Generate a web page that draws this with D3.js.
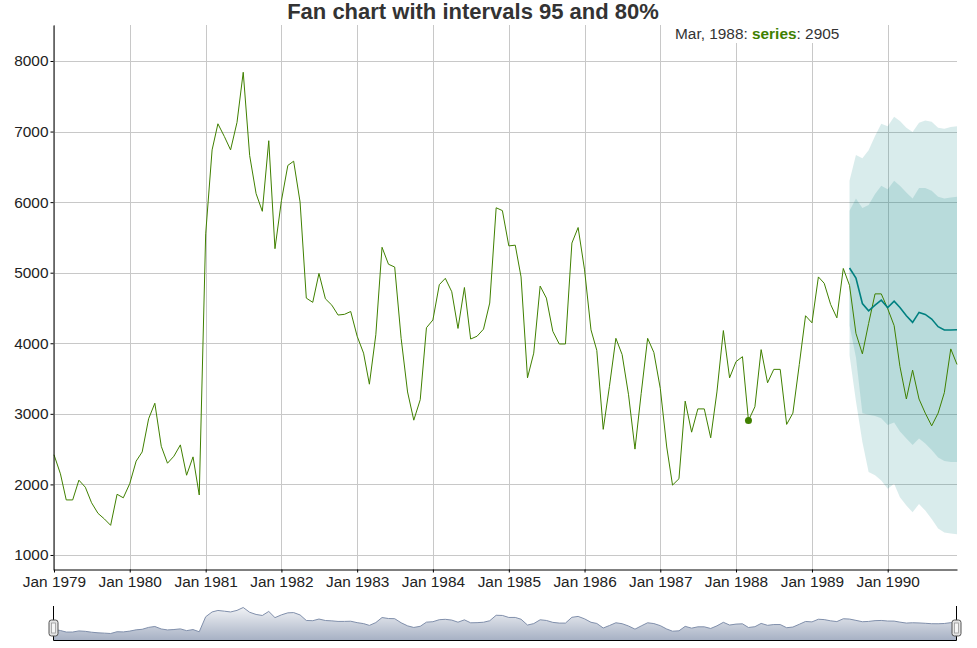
<!DOCTYPE html>
<html>

<head>
    <meta charset="UTF-8">
    <title>Fan chart with intervals 95 and 80%</title>
    <style>
        body { margin: 0; background: white; font-family: Arial, 'Liberation Sans', sans-serif; }
    </style>
</head>

<body>
    <svg></svg>
    <script src="https://d3js.org/d3.v7.min.js"></script>
    <script>
        // monthly observations, Jan 1979 .. Dec 1990
        let series = [
            2420, 2150, 1780, 1780, 2060, 1960, 1740, 1590, 1510, 1420, 1860, 1810,
            2010, 2330, 2460, 2930, 3150, 2540, 2300, 2400, 2560, 2130, 2390, 1850,
            5550, 6740, 7110, 6930, 6740, 7130, 7840, 6660, 6120, 5870, 6870, 5340,
            6020, 6520, 6580, 6000, 4640, 4580, 4990, 4630, 4540, 4400, 4410, 4450,
            4100, 3860, 3420, 4120, 5360, 5120, 5080, 4070, 3310, 2910, 3200, 4220,
            4330, 4830, 4920, 4730, 4210, 4790, 4060, 4100, 4200, 4570, 5920, 5880,
            5380, 5390, 4940, 3510, 3860, 4810, 4640, 4170, 3990, 3990, 5420, 5640,
            5040, 4190, 3900, 2780, 3390, 4070, 3840, 3270, 2500, 3290, 4070, 3870,
            3360, 2530, 1990, 2080, 3180, 2740, 3070, 3070, 2660, 3310, 4180, 3510,
            3740, 3810, 2905, 3100, 3910, 3440, 3630, 3630, 2850, 3010, 3700, 4390,
            4290, 4940, 4850, 4550, 4360, 5060, 4820, 4140, 3850, 4280, 4700, 4700,
            4490, 4250, 3670, 3210, 3620, 3210, 3010, 2830, 3010, 3300, 3920, 3700
        ];

        // forecast and its intervals, Jul 1989 .. Dec 1990
        let forecastStart = 126;
        let forecast = [5066, 4925, 4563, 4460, 4540, 4610, 4507, 4596, 4507, 4390, 4296, 4437, 4408, 4343, 4235, 4188, 4188, 4192];
        let upper95 = [6302, 6669, 6622, 6734, 6936, 7110, 7077, 7209, 7148, 7054, 6993, 7124, 7157, 7139, 7054, 7040, 7063, 7077];
        let upper80 = [5879, 6053, 5917, 5959, 6114, 6231, 6184, 6302, 6231, 6137, 6053, 6199, 6199, 6161, 6076, 6053, 6067, 6076];
        let lower80 = [4250, 3800, 3010, 2986, 2971, 2938, 2843, 2876, 2748, 2652, 2557, 2652, 2581, 2486, 2381, 2333, 2319, 2319];
        let lower95 = [3830, 3180, 2600, 2176, 2128, 2057, 1938, 2010, 1819, 1700, 1605, 1724, 1629, 1510, 1376, 1319, 1305, 1295];

        let yTicks = [1000, 2000, 3000, 4000, 5000, 6000, 7000, 8000];
        let highlightMonth = 110; // Mar 1988

        let width = 977,
            height = 648;

        let green = "rgb(64,128,0)",
            teal = "rgb(0,128,128)";

        let labelSize = "15.4px";

        let svg = d3.select("svg")
            .attr("width", width)
            .attr("height", height)
            .style("display", "block");

        let start = new Date(1979, 0, 1);
        let dates = series.map((v, i) => d3.timeMonth.offset(start, i));
        let years = d3.timeYear.range(start, dates[dates.length - 1]);

        let x = d3.scaleTime()
            .domain([dates[0], dates[dates.length - 1]])
            .range([54, 957]);

        let y = d3.scaleLinear()
            .domain([787, 8510])
            .range([570, 25]);

        // grid
        let grid = svg.append("g").attr("stroke", "#c8c8c8").attr("stroke-width", 1);
        grid.selectAll(".vg").data(years).enter().append("line")
            .attr("x1", d => Math.round(x(d)) + 0.5).attr("x2", d => Math.round(x(d)) + 0.5)
            .attr("y1", y.range()[1]).attr("y2", y.range()[0]);
        grid.selectAll(".hg").data(yTicks).enter().append("line")
            .attr("x1", x.range()[0]).attr("x2", x.range()[1])
            .attr("y1", d => Math.round(y(d)) + 0.5).attr("y2", d => Math.round(y(d)) + 0.5);

        // fan
        let fan = forecast.map((f, i) => ({
            date: dates[forecastStart + i],
            mid: f, hi95: upper95[i], lo95: lower95[i], hi80: upper80[i], lo80: lower80[i]
        }));

        svg.append("path")
            .datum(fan)
            .attr("fill", teal).attr("fill-opacity", 0.15)
            .attr("d", d3.area().x(d => x(d.date)).y0(d => y(d.lo95)).y1(d => y(d.hi95)));
        svg.append("path")
            .datum(fan)
            .attr("fill", teal).attr("fill-opacity", 0.15)
            .attr("d", d3.area().x(d => x(d.date)).y0(d => y(d.lo80)).y1(d => y(d.hi80)));

        // lines
        svg.append("path")
            .datum(series)
            .attr("fill", "none").attr("stroke", green).attr("stroke-width", 1)
            .attr("d", d3.line().x((d, i) => x(dates[i])).y(d => y(d)));

        svg.append("path")
            .datum(fan)
            .attr("fill", "none").attr("stroke", teal).attr("stroke-width", 1.6)
            .attr("d", d3.line().x(d => x(d.date)).y(d => y(d.mid)));

        // highlighted point
        svg.append("circle")
            .attr("cx", x(dates[highlightMonth]))
            .attr("cy", y(series[highlightMonth]))
            .attr("r", 3.5)
            .attr("fill", green);

        // axes
        let yAxis = svg.append("g")
            .attr("transform", "translate(53.5,0)")
            .call(d3.axisLeft(y).tickValues(yTicks).tickSize(3).tickSizeOuter(0).tickPadding(2).tickFormat(d3.format("d")));
        let xAxis = svg.append("g")
            .attr("transform", "translate(0,569.5)")
            .call(d3.axisBottom(x).tickValues(years).tickSize(3).tickSizeOuter(0).tickPadding(3.5).tickFormat(d3.timeFormat("Jan %Y")));

        [yAxis, xAxis].forEach(a => {
            a.selectAll("path, line").attr("stroke", "#000");
            a.selectAll("text").attr("fill", "#222").style("font-size", labelSize)
                .style("font-family", "Arial, 'Liberation Sans', sans-serif");
        });

        // title
        svg.append("text")
            .attr("x", 473).attr("y", 19)
            .attr("text-anchor", "middle")
            .style("font-size", "22px").style("font-weight", "bold")
            .attr("fill", "#333")
            .text("Fan chart with intervals 95 and 80%");

        // legend
        svg.append("rect")
            .attr("x", 668).attr("y", 25).attr("width", 184).attr("height", 18)
            .attr("fill", "white");
        let legend = svg.append("text")
            .attr("x", 675).attr("y", 39)
            .style("font-size", labelSize)
            .attr("fill", "#333");
        legend.append("tspan").text(d3.timeFormat("%b, %Y")(dates[highlightMonth]) + ": ");
        legend.append("tspan").attr("fill", green).style("font-weight", "bold").text("series");
        legend.append("tspan").text(": " + series[highlightMonth]);

        // range selector
        let combined = series.map((v, i) => {
            let f = forecast[i - forecastStart];
            return f == null ? v : (v + 2 * f) / 3;
        });

        let miniY = d3.scaleLinear()
            .domain([-185, 9445])
            .range([640, 601]);

        let grad = svg.append("defs").append("linearGradient")
            .attr("id", "miniFill")
            .attr("gradientUnits", "userSpaceOnUse")
            .attr("x1", 0).attr("x2", 0).attr("y1", 601).attr("y2", 640);
        grad.append("stop").attr("offset", 0).attr("stop-color", "white");
        grad.append("stop").attr("offset", 1).attr("stop-color", "#A7B1C4");

        svg.append("path")
            .datum(combined)
            .attr("fill", "url(#miniFill)")
            .attr("d", d3.area().x((d, i) => x(dates[i])).y0(640).y1(d => miniY(d)));
        svg.append("path")
            .datum(combined)
            .attr("fill", "none").attr("stroke", "#808FAB").attr("stroke-width", 1)
            .attr("d", d3.line().x((d, i) => x(dates[i])).y(d => miniY(d)));

        svg.append("path")
            .attr("fill", "none").attr("stroke", "#000").attr("stroke-width", 1)
            .attr("d", "M53.5,606V640.5H956.5V606");

        [53.5, 956.5].forEach(hx => {
            let h = svg.append("g").attr("transform", "translate(" + (hx - 4.5) + ",620)");
            h.append("rect")
                .attr("width", 9).attr("height", 16).attr("rx", 2.5)
                .attr("fill", "#e4e4e4").attr("stroke", "#555").attr("stroke-width", 1);
            h.append("rect")
                .attr("x", 2.5).attr("y", 3).attr("width", 4).attr("height", 10)
                .attr("fill", "#f6f6f6").attr("stroke", "#999").attr("stroke-width", 0.8);
        });
    </script>
</body>

</html>
